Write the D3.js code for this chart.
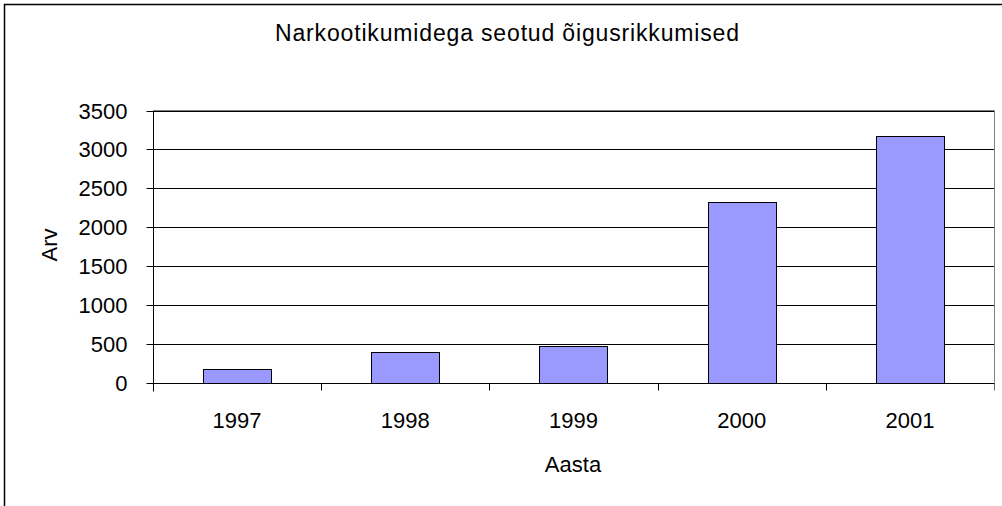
<!DOCTYPE html>
<html>
<head>
<meta charset="utf-8">
<script src="https://cdn.jsdelivr.net/npm/d3@7"></script>
<style>
body { margin: 0; background: #fff; }
text { font-family: "Liberation Sans", Arial, sans-serif; fill: #000; }
</style>
</head>
<body>
<div class="chart"></div>
<script>
var years  = ["1997", "1998", "1999", "2000", "2001"];
var counts = [180, 387, 468, 2322, 3168];
var yTicks = [0, 500, 1000, 1500, 2000, 2500, 3000, 3500];
var title  = "Narkootikumidega seotud õigusrikkumised";
var xTitle = "Aasta";
var yTitle = "Arv";

function drawChart(){
var width  = 1002;
var height = 506;
var left = 153, right = 994, top = 110.5, bottom = 382.5;

var svg = d3.select(".chart").append("svg").attr("width", width).attr("height", height);

// outer frame, only top and left edges are visible
svg.append("path").attr("d", "M4.5,506V4.5H1002").attr("fill", "none").attr("stroke", "#000").attr("stroke-width", 1.5);

var x = d3.scaleBand().domain(years).range([left, right]).paddingInner(0.594).paddingOuter(0.297);
var xs = d3.scaleLinear().domain([0, years.length]).range([left, right]);
var y = d3.scaleLinear().domain([0, 3500]).range([bottom, top]);

// gridlines
svg.append("g").selectAll("line").data(yTicks.slice(1)).enter().append("line").
	attr("x1", left).attr("x2", right).
	attr("y1", function(d){ return Math.round(y(d)) + 0.5; }).
	attr("y2", function(d){ return Math.round(y(d)) + 0.5; }).
	attr("stroke", "#000");

// plot area border (top and right in gray)
svg.append("path").attr("d", "M" + left + "," + (top) + "H" + (right + 0.5) + "V" + bottom).
	attr("fill", "none").attr("stroke", "#808080");

// bars
svg.append("g").selectAll("rect").data(counts).enter().append("rect").
	attr("x", function(d,i){ return Math.round(x(years[i])) + 0.5; }).
	attr("y", function(d){ return Math.round(y(d)) + 0.5; }).
	attr("width", Math.round(x.bandwidth())).
	attr("height", function(d){ return Math.round(y(0)) - Math.round(y(d)); }).
	attr("fill", "#9999FF").attr("stroke", "#000");

// y axis
var yAxis = d3.axisLeft(y).tickValues(yTicks).tickFormat(d3.format("d")).tickSize(7).tickPadding(19).tickSizeOuter(0);
var gy = svg.append("g").attr("transform", "translate(" + (left + 0.5) + ",0.5)").call(yAxis);
gy.selectAll(".tick").attr("transform", function(d){ return "translate(0," + Math.round(y(d)) + ")"; });
gy.select(".domain").attr("d", "M0," + Math.round(top) + "V" + (Math.round(bottom) + 8));
gy.selectAll("path, line").attr("stroke", "#000");
gy.selectAll("text").attr("font-size", 22).attr("font-family", "Liberation Sans, Arial, sans-serif").attr("dy", "0.36em");

// x axis ticks at category boundaries
var gx = svg.append("g").attr("transform", "translate(0," + (Math.round(bottom) + 0.5) + ")");
gx.append("line").attr("x1", left).attr("x2", right + 1).attr("stroke", "#000");
gx.selectAll(".xt").data(d3.range(years.length + 1)).enter().append("line").attr("class", "xt").
	attr("x1", function(d){ return Math.round(xs(d)) + 0.5; }).
	attr("x2", function(d){ return Math.round(xs(d)) + 0.5; }).
	attr("y1", 0).attr("y2", 7).
	attr("stroke", function(d){ return d == years.length ? "#666" : "#000"; });
gx.selectAll(".xl").data(years).enter().append("text").attr("class", "xl").
	attr("x", function(d){ return x(d) + x.bandwidth() / 2; }).
	attr("y", 44).attr("text-anchor", "middle").attr("font-size", 22).
	text(function(d){ return d; });

// titles
svg.append("text").attr("x", 507).attr("y", 41).attr("text-anchor", "middle").
	attr("font-size", 23).attr("textLength", 464).attr("lengthAdjust", "spacing").text(title);
svg.append("text").attr("x", 573).attr("y", 472).attr("text-anchor", "middle").attr("font-size", 22).text(xTitle);
svg.append("text").attr("transform", "translate(57,245) rotate(-90)").attr("text-anchor", "middle").attr("font-size", 22).text(yTitle);
}
drawChart();
</script>
</body>
</html>
